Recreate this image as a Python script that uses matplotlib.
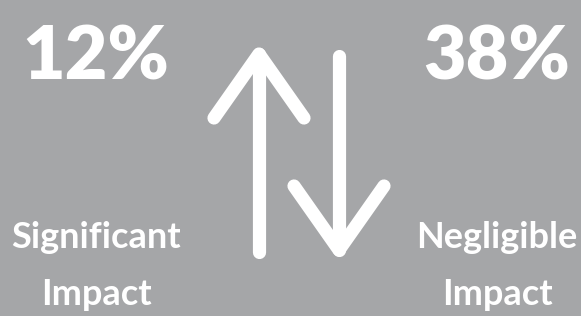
import matplotlib
matplotlib.use("Agg")
import matplotlib.pyplot as plt

percents = [12, 38]
labels = [["Significant", "Impact"], ["Negligible", "Impact"]]
centers_x = [96, 497]

BG = "#a5a6a8"
W, H = 581, 316
fig = plt.figure(figsize=(W / 100, H / 100), dpi=100, facecolor=BG)
ax = fig.add_axes([0, 0, 1, 1])
ax.set_xlim(0, W)
ax.set_ylim(H, 0)
ax.axis("off")
ax.set_facecolor(BG)

for cx, p, lab in zip(centers_x, percents, labels):
    ax.text(cx, 80, f"{p}%", color="white", fontsize=53, fontweight="heavy",
            family="Lato", ha="center", va="baseline")
    ax.text(cx, 248, lab[0], color="white", fontsize=26, fontweight="bold",
            family="Lato", ha="center", va="baseline")
    ax.text(cx, 305, lab[1], color="white", fontsize=26, fontweight="bold",
            family="Lato", ha="center", va="baseline")

lw = 9.5
kw = dict(color="white", lw=lw, solid_capstyle="round", solid_joinstyle="round")
# up arrow
ax.plot([259, 259], [54, 252], **kw)
ax.plot([214, 259, 304], [118, 54, 118], **kw)
# down arrow
ax.plot([339, 339], [56, 250], **kw)
ax.plot([294, 339, 384], [186, 250, 186], **kw)

fig.savefig("out.png", dpi=100, facecolor=BG)
